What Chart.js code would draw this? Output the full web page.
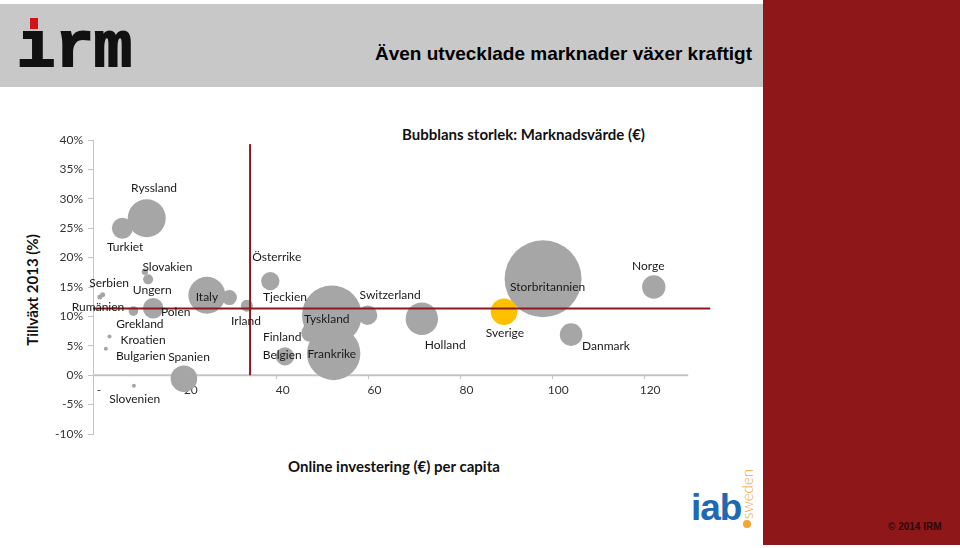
<!DOCTYPE html>
<html><head><meta charset="utf-8">
<script src="https://cdn.jsdelivr.net/npm/chart.js@4.4.1/dist/chart.umd.min.js"></script>
<style>
html,body{margin:0;padding:0;background:#fff;}
#wrap{position:relative;width:960px;height:548px;overflow:hidden;background:#fff;}
#hdr{position:absolute;left:0;top:4px;width:763px;height:83px;background:#c8c8c8;}
#band{position:absolute;left:763px;top:0;width:197px;height:545px;background:#8e1719;}
.t{position:absolute;white-space:nowrap;line-height:1;}
#logo{left:17px;top:17px;font:bold 64px "Liberation Mono",monospace;color:#111;line-height:64px;-webkit-text-stroke:2px #111;}
#logocover{position:absolute;left:22px;top:10px;width:26px;height:21px;background:#c8c8c8;}
#logodot{position:absolute;left:30px;top:18px;width:8px;height:11px;background:#d0141a;}
#title{left:375px;top:43px;font:bold 19px "Liberation Sans",Arial,sans-serif;color:#000;}
#bubt{left:402px;top:125px;font:bold 15px Lato,sans-serif;color:#111;}
#xt{left:288px;top:457px;font:bold 15px Lato,sans-serif;color:#111;}
#yt{left:32px;top:290px;font:bold 15px Lato,sans-serif;color:#111;transform:translate(-50%,-50%) rotate(-90deg);}
#iab{left:691px;top:487px;font:bold 37px "Liberation Sans",Arial,sans-serif;color:#1f68b3;letter-spacing:-1px;}
#iabdot{position:absolute;left:743px;top:520px;width:8px;height:8px;border-radius:50%;background:#f4a533;}
#swe{left:747px;top:494px;font:300 15px Lato,sans-serif;color:#f4a533;transform:translate(-50%,-50%) rotate(-90deg);}
#copy{left:888px;top:521px;font:bold 10px "Liberation Sans",Arial,sans-serif;color:#2a0808;}
canvas{position:absolute;left:0;top:0;}
</style></head>
<body><div id="wrap">
<div id="hdr"></div>
<div id="band"></div>
<div class="t" id="logo">irm</div><div id="logocover"></div><div id="logodot"></div>
<div class="t" id="title">Även utvecklade marknader växer kraftigt</div>
<div class="t" id="bubt">Bubblans storlek: Marknadsvärde (€)</div>
<div class="t" id="xt">Online investering (€) per capita</div>
<div class="t" id="yt">Tillväxt 2013 (%)</div>
<div class="t" id="iab">iab</div><div id="iabdot"></div>
<div class="t" id="swe">sweden</div>
<div class="t" id="copy">© 2014 IRM</div>
<canvas id="c" width="960" height="548"></canvas>
</div>
<script>
// ---- data ----
const countries = ['Ryssland','Turkiet','Slovakien','Ungern','Serbien','Rumänien','Grekland','Polen','Kroatien','Bulgarien','Slovenien','Spanien','Italy','Tjeckien','Irland','Österrike','Tyskland','Frankrike','Finland','Belgien','Switzerland','Holland','Sverige','Storbritannien','Danmark','Norge'];
const onlinePerCapita = [11.7, 6.4, 11.3, 12.0, 1.5, 2.1, 8.8, 13.1, 3.6, 2.8, 8.9, 19.8, 24.8, 29.7, 33.5, 38.6, 52.0, 52.4, 47.3, 41.8, 59.8, 71.6, 89.5, 98.0, 104.1, 122.1];
const growth2013 = [26.7, 25.0, 17.6, 16.3, 13.3, 13.7, 10.9, 11.4, 6.6, 4.5, -1.8, -0.6, 13.6, 13.2, 11.8, 16.0, 10.2, 3.7, 7.2, 3.2, 10.2, 9.6, 10.8, 16.4, 6.9, 15.0];
const marketValue = [1780, 545, 50, 124, 31, 31, 115, 520, 20, 20, 20, 870, 1690, 278, 178, 415, 4390, 3520, 400, 415, 465, 1300, 875, 7320, 630, 675];
const labelAtX = [13.3, 7.0, 16.2, 12.9, 3.5, 1.1, 10.2, 18.0, 10.9, 10.4, 9.1, 20.9, 24.8, 41.8, 33.3, 40.0, 50.9, 52.0, 41.2, 41.2, 64.7, 76.7, 89.7, 99.0, 111.7, 120.9];
const labelAtY = [31.9, 21.7, 18.4, 14.5, 15.6, 11.6, 8.7, 10.7, 6.0, 3.3, -4.0, 3.1, 13.3, 13.3, 9.2, 20.1, 9.5, 3.6, 6.5, 3.4, 13.6, 5.1, 7.2, 15.0, 4.9, 18.6];
const highlight = 'Sverige';
const xTickValues = [0, 20, 40, 60, 80, 100, 120];
const yTickValues = [-10, -5, 0, 5, 10, 15, 20, 25, 30, 35, 40];
const xAxisEnd = 129.6;
const crossX = 34.2, crossXTop = 39.3;
const crossY = 11.35, crossYEnd = 134.4;

// ---- build ----
const radiusOf = v => 0.45 * Math.sqrt(v);
const pts = countries.map((c, i) => ({x: onlinePerCapita[i], y: growth2013[i], r: radiusOf(marketValue[i]), name: c}));

const labelPlugin = {
  id: 'countryLabels',
  afterDatasetsDraw(chart) {
    const {ctx, scales: {x, y}} = chart;
    ctx.save();
    ctx.font = '12px Lato';
    ctx.fillStyle = '#1a1a1a';
    ctx.textAlign = 'center';
    ctx.textBaseline = 'middle';
    countries.forEach((c, i) => ctx.fillText(c, x.getPixelForValue(labelAtX[i]), y.getPixelForValue(labelAtY[i])));
    ctx.restore();
  }
};

new Chart(document.getElementById('c'), {
  type: 'bubble',
  data: {
    datasets: [
      {type: 'line', data: [{x: 0, y: crossY}, {x: crossYEnd, y: crossY}], borderColor: '#8b1a1f', borderWidth: 2, pointRadius: 0, fill: false, order: 0, clip: false},
      {type: 'line', data: [{x: crossX, y: 0}, {x: crossX, y: crossXTop}], borderColor: '#8b1a1f', borderWidth: 2, pointRadius: 0, fill: false, order: 0, clip: false},
      {data: pts.filter(p => p.name === highlight), backgroundColor: '#ffc000', borderWidth: 0, order: 1},
      {data: pts.filter(p => p.name !== highlight), backgroundColor: '#a6a6a6', borderWidth: 0, order: 2},
      {type: 'line', data: [{x: 0, y: 0}, {x: xAxisEnd, y: 0}], borderColor: '#c4c4c4', borderWidth: 2, pointRadius: 0, fill: false, order: 5}
    ]
  },
  options: {
    responsive: false,
    animation: false,
    events: [],
    layout: {padding: {left: 43, top: 140, right: 247, bottom: 114}},
    plugins: {legend: {display: false}, tooltip: {enabled: false}},
    scales: {
      x: {
        type: 'linear', min: 0, max: 135, position: {y: 0},
        afterBuildTicks: s => { s.ticks = xTickValues.map(v => ({value: v})); },
        ticks: {callback: v => v === 0 ? '-' : v, font: {family: 'Lato', size: 12}, color: '#333', labelOffset: 6, padding: 4, maxRotation: 0, autoSkip: false},
        grid: {drawOnChartArea: false, drawTicks: true, tickLength: 4, color: '#c4c4c4'},
        border: {display: false}
      },
      y: {
        type: 'linear', min: -10, max: 40,
        afterBuildTicks: s => { s.ticks = yTickValues.map(v => ({value: v})); },
        afterFit: s => { s.width = 50; },
        ticks: {callback: v => v + '%', font: {family: 'Lato', size: 12}, color: '#333', padding: 5},
        grid: {drawOnChartArea: false, drawTicks: true, tickLength: 5, color: '#c4c4c4'},
        border: {color: '#c4c4c4', width: 1}
      }
    }
  },
  plugins: [labelPlugin]
});
</script>
</body></html>
